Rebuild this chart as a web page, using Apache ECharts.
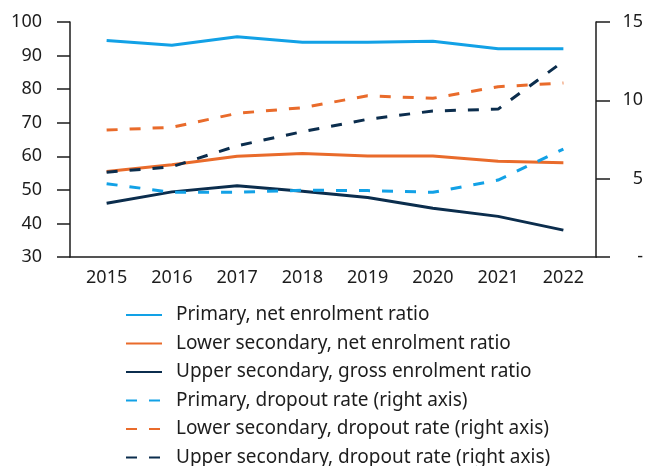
<!DOCTYPE html>
<html>
<head>
<meta charset="utf-8">
<script src="https://cdn.jsdelivr.net/npm/echarts@6/dist/echarts.min.js"></script>
<style>
  html, body { margin: 0; padding: 0; background: #fff; }
  #chart { width: 653px; height: 466px; }
</style>
</head>
<body>
<div id="chart"></div>
<script>
// ========== 数据 ==========
const years = ['2015', '2016', '2017', '2018', '2019', '2020', '2021', '2022'];

const primaryNet = [94.5, 93.1, 95.6, 94.0, 94.0, 94.3, 92.0, 92.0];
const lowerSecNet = [55.5, 57.5, 60.0, 60.8, 60.1, 60.1, 58.5, 58.1];
const upperSecGross = [46.0, 49.4, 51.2, 49.6, 47.7, 44.5, 42.1, 38.0];

const primaryDropout = [4.68, 4.13, 4.13, 4.26, 4.24, 4.13, 4.91, 6.89];
const lowerSecDropout = [8.10, 8.28, 9.17, 9.53, 10.29, 10.13, 10.87, 11.11];
const upperSecDropout = [5.41, 5.76, 7.10, 8.00, 8.79, 9.32, 9.44, 12.49];

const leftTicks = { min: 30, max: 100, interval: 10 };
const rightTicks = { min: 0, max: 15, interval: 5 };

const BLUE = '#12a1e6';
const ORANGE = '#e96b2b';
const NAVY = '#0b2d4d';
const INK = '#1d1d1d';
const FONT = 'Noto Sans';
const DASH = [11, 12];

// ========== 图表 ==========
const chart = echarts.init(document.getElementById('chart'), null, { renderer: 'canvas' });

function line(name, data, color, yIndex, dashed) {
  return {
    name, type: 'line', data,
    xAxisIndex: 0, yAxisIndex: yIndex,
    symbol: 'none', smooth: false,
    lineStyle: { color, width: 3, type: dashed ? DASH : 'solid', cap: 'butt' },
    itemStyle: { color },
    emphasis: { disabled: true }
  };
}

chart.setOption({
  backgroundColor: '#fff',
  animation: false,
  textStyle: { fontFamily: FONT, color: INK },
  grid: [
    { left: 74, right: 57, top: 22, bottom: 209, containLabel: false },
    { left: 70, right: 57, top: 22, bottom: 209, show: false }
  ],
  legend: {
    orient: 'vertical',
    left: 120, top: 300, height: 220,
    itemWidth: 36, itemHeight: 14, itemGap: 8.5,
    itemStyle: { opacity: 0 },
    textStyle: { fontFamily: FONT, fontSize: 19, color: INK, lineHeight: 20, padding: [0, 0, 0, 9] },
    data: [
      'Primary, net enrolment ratio',
      'Lower secondary, net enrolment ratio',
      'Upper secondary, gross enrolment ratio',
      'Primary, dropout rate (right axis)',
      'Lower secondary, dropout rate (right axis)',
      'Upper secondary, dropout rate (right axis)'
    ]
  },
  xAxis: [{
    type: 'category', gridIndex: 0, data: years, boundaryGap: true,
    axisLine: { show: false },
    axisTick: { show: false },
    axisLabel: { fontFamily: FONT, fontSize: 18, color: INK, margin: 12 }
  }, {
    type: 'value', gridIndex: 1, min: 0, max: 1,
    axisLine: { show: true, lineStyle: { color: INK, width: 1.5 } },
    axisTick: { show: false }, axisLabel: { show: false }, splitLine: { show: false }
  }],
  yAxis: [{
    type: 'value', gridIndex: 0, position: 'left', offset: 4,
    min: leftTicks.min, max: leftTicks.max, interval: leftTicks.interval,
    axisLine: { show: true, lineStyle: { color: INK, width: 1.5 } },
    axisTick: { show: true, inside: false, length: 13, lineStyle: { color: INK, width: 1.5 } },
    axisLabel: { fontFamily: FONT, fontSize: 18, color: INK, margin: 28 },
    splitLine: { show: false }
  }, {
    type: 'value', gridIndex: 0, position: 'right',
    min: rightTicks.min, max: rightTicks.max, interval: rightTicks.interval,
    axisLine: { show: true, lineStyle: { color: INK, width: 1.5 } },
    axisTick: { show: true, inside: false, length: 14, lineStyle: { color: INK, width: 1.5 } },
    axisLabel: {
      fontFamily: FONT, fontSize: 18, color: INK, margin: 47, align: 'right',
      formatter: v => v === 0 ? '-' : String(v)
    },
    splitLine: { show: false }
  }, {
    type: 'value', gridIndex: 1, show: false, min: 0, max: 1
  }],
  series: [
    line('Primary, net enrolment ratio', primaryNet, BLUE, 0, false),
    line('Lower secondary, net enrolment ratio', lowerSecNet, ORANGE, 0, false),
    line('Upper secondary, gross enrolment ratio', upperSecGross, NAVY, 0, false),
    line('Primary, dropout rate (right axis)', primaryDropout, BLUE, 1, true),
    line('Lower secondary, dropout rate (right axis)', lowerSecDropout, ORANGE, 1, true),
    line('Upper secondary, dropout rate (right axis)', upperSecDropout, NAVY, 1, true)
  ]
});
</script>
</body>
</html>
